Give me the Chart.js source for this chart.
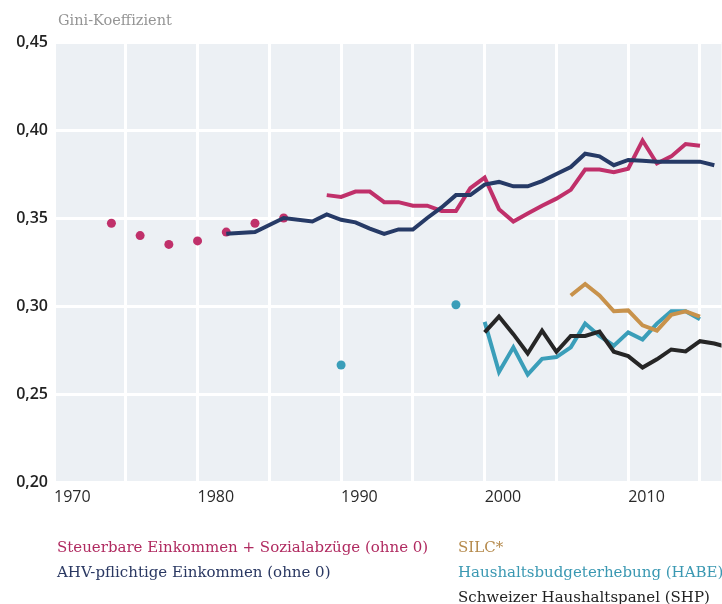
<!DOCTYPE html>
<html lang="de">
<head>
<meta charset="utf-8">
<script src="https://cdn.jsdelivr.net/npm/chart.js@4/dist/chart.umd.min.js"></script>
<style>
  html, body { margin: 0; padding: 0; background: #fff; }
  #wrap { position: relative; width: 722px; height: 604px; overflow: hidden; }
  #chart { position: absolute; left: 0; top: 0; }
  .txt { position: absolute; font-family: 'DejaVu Serif', serif; font-size: 15px; line-height: 20px; white-space: nowrap; }
  #ytitle { left: 58px; top: 10px; font-size: 14.5px; color: #959595; }
</style>
</head>
<body>
<div id="wrap">
  <canvas id="chart" width="726" height="604"></canvas>
  <div id="ytitle" class="txt">Gini-Koeffizient</div>
  <div class="txt" style="left:57px; top:537px; color:#b02a60;">Steuerbare Einkommen + Sozialabzüge (ohne 0)</div>
  <div class="txt" style="left:57px; top:562px; color:#2a3862;">AHV-pflichtige Einkommen (ohne 0)</div>
  <div class="txt" style="left:458px; top:537px; color:#b58a4c;">SILC*</div>
  <div class="txt" style="left:458px; top:562px; color:#3a98b2;">Haushaltsbudgeterhebung (HABE)</div>
  <div class="txt" style="left:458px; top:587px; color:#222;">Schweizer Haushaltspanel (SHP)</div>
</div>
<script>
// Steuerbare Einkommen + Sozialabzüge: Einzelpunkte, dann Linie
const steuerDotYears = [1974, 1976, 1978, 1980, 1982, 1984, 1986];
const steuerDotValues = [0.347, 0.340, 0.335, 0.337, 0.342, 0.347, 0.350];
const steuerYears = [1989, 1990, 1991, 1992, 1993, 1994, 1995, 1996, 1997, 1998, 1999, 2000, 2001, 2002,
  2003, 2004, 2005, 2006, 2007, 2008, 2009, 2010, 2011, 2012, 2013, 2014, 2015];
const steuerValues = [0.363, 0.362, 0.365, 0.365, 0.359, 0.359, 0.357, 0.357, 0.354, 0.354, 0.367, 0.373, 0.355, 0.348,
  0.3525, 0.357, 0.361, 0.366, 0.3775, 0.3775, 0.376, 0.378, 0.394, 0.381, 0.385, 0.392, 0.391];

// AHV-pflichtige Einkommen
const ahvYears = [1982, 1984, 1986, 1988, 1989, 1990, 1991, 1992, 1993, 1994, 1995, 1996, 1997, 1998, 1999,
  2000, 2001, 2002, 2003, 2004, 2005, 2006, 2007, 2008, 2009, 2010, 2011, 2012, 2013, 2014, 2015, 2016];
const ahvValues = [0.341, 0.342, 0.350, 0.348, 0.352, 0.349, 0.3475, 0.344, 0.341, 0.3435, 0.3435, 0.350, 0.356, 0.363, 0.363,
  0.369, 0.3705, 0.368, 0.368, 0.371, 0.375, 0.379, 0.3865, 0.385, 0.380, 0.383, 0.3825, 0.382, 0.382, 0.382, 0.382, 0.380];

// SILC
const silcYears = [2006, 2007, 2008, 2009, 2010, 2011, 2012, 2013, 2014, 2015];
const silcValues = [0.306, 0.3125, 0.306, 0.297, 0.2975, 0.289, 0.286, 0.295, 0.297, 0.294];

// HABE: Einzelpunkte, dann Linie
const habeDotYears = [1990, 1998];
const habeDotValues = [0.2665, 0.3007];
const habeYears = [2000, 2001, 2002, 2003, 2004, 2005, 2006, 2007, 2008, 2009, 2010, 2011, 2012, 2013, 2014, 2015];
const habeValues = [0.291, 0.2625, 0.2765, 0.261, 0.270, 0.271, 0.2765, 0.290, 0.283, 0.2775, 0.285, 0.281, 0.290, 0.297, 0.297, 0.2925];

// SHP
const shpYears = [2000, 2001, 2002, 2003, 2004, 2005, 2006, 2007, 2008, 2009, 2010, 2011, 2012, 2013, 2014, 2015, 2016, 2017];
const shpValues = [0.285, 0.294, 0.284, 0.273, 0.286, 0.274, 0.283, 0.283, 0.2855, 0.274, 0.2715, 0.265, 0.2697, 0.2753, 0.2742, 0.280, 0.2787, 0.2764];

const yTicks = [0.20, 0.25, 0.30, 0.35, 0.40, 0.45];
const xLabelYears = [1970, 1980, 1990, 2000, 2010];

const colors = {
  steuer: '#c0306a',
  ahv: '#263a66',
  silc: '#c8924b',
  habe: '#3a9eb9',
  shp: '#262626'
};

function pts(xs, ys) {
  return xs.map((x, i) => ({ x: x, y: ys[i] }));
}

function lineSet(label, xs, ys, color) {
  return {
    label: label,
    data: pts(xs, ys),
    borderColor: color,
    backgroundColor: color,
    borderWidth: 4,
    pointRadius: 0,
    tension: 0,
    borderJoinStyle: 'miter',
    fill: false
  };
}

function dotSet(label, xs, ys, color) {
  return {
    label: label,
    data: pts(xs, ys),
    showLine: false,
    borderColor: color,
    backgroundColor: color,
    borderWidth: 0,
    pointRadius: 4.5
  };
}

// hellgrauer Hintergrund der Plotfläche
const panelBg = {
  id: 'panelBg',
  beforeDraw(chart) {
    const { ctx, chartArea: a } = chart;
    ctx.save();
    ctx.fillStyle = '#ecf0f4';
    ctx.fillRect(a.left, a.top, a.right - a.left, a.bottom - a.top);
    ctx.restore();
  }
};

new Chart(document.getElementById('chart'), {
  type: 'line',
  data: {
    datasets: [
      lineSet('AHV-pflichtige Einkommen (ohne 0)', ahvYears, ahvValues, colors.ahv),
      lineSet('Steuerbare Einkommen + Sozialabzüge (ohne 0)', steuerYears, steuerValues, colors.steuer),
      dotSet('Steuerbare Einkommen (Punkte)', steuerDotYears, steuerDotValues, colors.steuer),
      lineSet('Schweizer Haushaltspanel (SHP)', shpYears, shpValues, colors.shp),
      lineSet('SILC*', silcYears, silcValues, colors.silc),
      lineSet('Haushaltsbudgeterhebung (HABE)', habeYears, habeValues, colors.habe),
      dotSet('HABE (Punkte)', habeDotYears, habeDotValues, colors.habe)
    ]
  },
  options: {
    responsive: false,
    animation: false,
    layout: { padding: { top: 42, right: 0, bottom: 92, left: 0 } },
    plugins: {
      legend: { display: false },
      tooltip: { enabled: false }
    },
    scales: {
      x: {
        type: 'linear',
        min: 1970,
        max: 2016.5,
        border: { display: false },
        grid: { color: '#ffffff', lineWidth: 3, drawTicks: true, tickLength: 6, tickColor: 'rgba(0,0,0,0)' },
        afterFit: s => { s.height = 30; },
        ticks: {
          stepSize: 5,
          includeBounds: false,
          autoSkip: false,
          maxRotation: 0,
          align: 'start',
          padding: 0,
          color: '#2a2a2a',
          font: { family: "'Open Sans', sans-serif", size: 16 },
          callback: v => xLabelYears.includes(Math.round(v)) ? String(Math.round(v)) : ''
        }
      },
      y: {
        min: 0.20,
        max: 0.45,
        border: { display: false },
        grid: { color: '#ffffff', lineWidth: 3, drawTicks: false },
        afterFit: s => { s.width = 54; },
        afterBuildTicks: s => { s.ticks = yTicks.map(v => ({ value: v })); },
        ticks: {
          padding: 6,
          color: '#222',
          font: { family: "'Open Sans', sans-serif", size: 16, weight: '600' },
          callback: v => Number(v).toFixed(2).replace('.', ',')
        }
      }
    }
  },
  plugins: [panelBg]
});
</script>
</body>
</html>
